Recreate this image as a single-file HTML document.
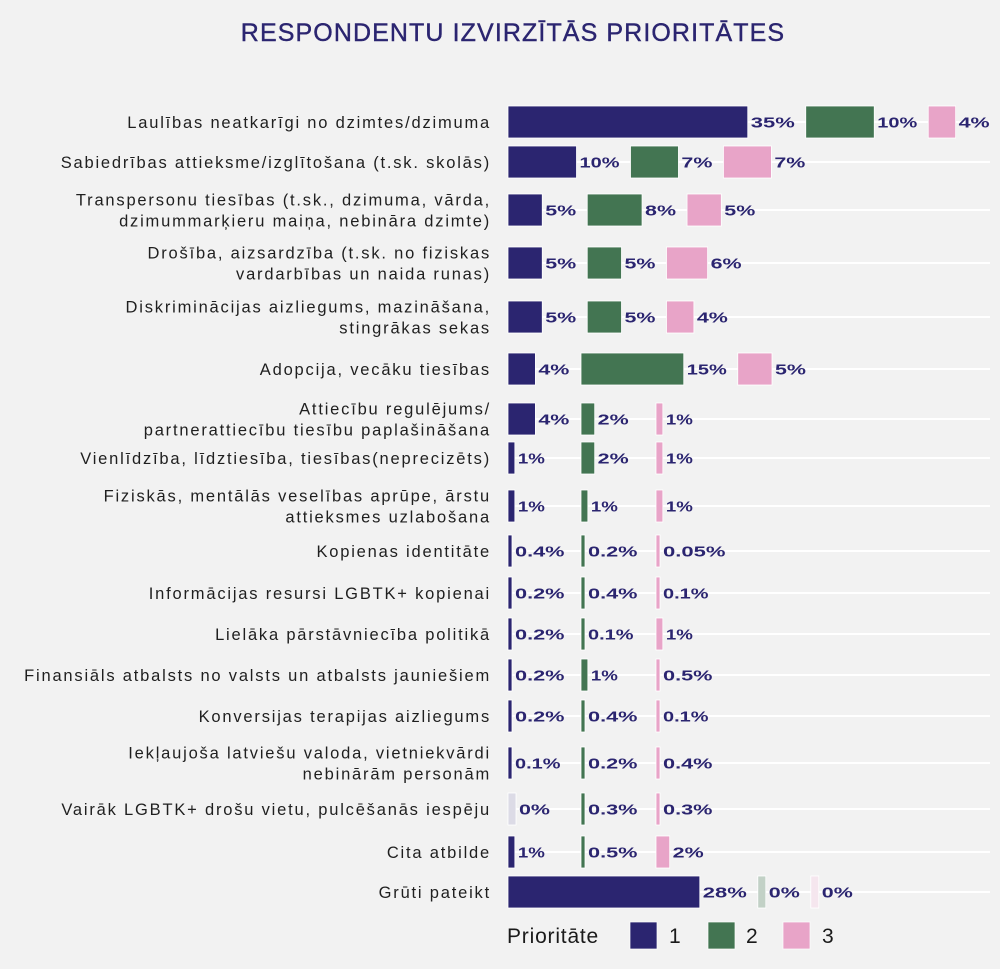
<!DOCTYPE html>
<html><head><meta charset="utf-8">
<style>
html,body{margin:0;padding:0;background:#f2f2f2;}
svg{display:block;font-family:"Liberation Sans",sans-serif;}
</style></head>
<body>
<svg id="chart" width="1000" height="969" viewBox="0 0 1000 969">
<rect width="1000" height="969" fill="#f2f2f2"/>
<text x="513" y="41" text-anchor="middle" font-size="25" fill="#2b2570" letter-spacing="1.1" stroke="#2b2570" stroke-width="0.4">RESPONDENTU IZVIRZĪTĀS PRIORITĀTES</text>
<g id="rows"></g>
<g>
<text x="507" y="943" font-size="21" fill="#1a1a1a" letter-spacing="0.8">Prioritāte</text>
<rect x="630" y="922" width="27" height="27" fill="#2b2570" stroke="#fff" stroke-width="0.7"/>
<text x="669" y="943" font-size="21" fill="#1a1a1a">1</text>
<rect x="708" y="922" width="27" height="27" fill="#437552" stroke="#fff" stroke-width="0.7"/>
<text x="746" y="943" font-size="21" fill="#1a1a1a">2</text>
<rect x="783" y="922" width="27" height="27" fill="#e8a4c8" stroke="#fff" stroke-width="0.7"/>
<text x="822" y="943" font-size="21" fill="#1a1a1a">3</text>
</g>
</svg>
<script>
const categories = [
 ["Laulības neatkarīgi no dzimtes/dzimuma"],
 ["Sabiedrības attieksme/izglītošana (t.sk. skolās)"],
 ["Transpersonu tiesības (t.sk., dzimuma, vārda,","dzimummarķieru maiņa, nebināra dzimte)"],
 ["Drošība, aizsardzība (t.sk. no fiziskas","vardarbības un naida runas)"],
 ["Diskriminācijas aizliegums, mazināšana,","stingrākas sekas"],
 ["Adopcija, vecāku tiesības"],
 ["Attiecību regulējums/","partnerattiecību tiesību paplašināšana"],
 ["Vienlīdzība, līdztiesība, tiesības(neprecizēts)"],
 ["Fiziskās, mentālās veselības aprūpe, ārstu","attieksmes uzlabošana"],
 ["Kopienas identitāte"],
 ["Informācijas resursi LGBTK+ kopienai"],
 ["Lielāka pārstāvniecība politikā"],
 ["Finansiāls atbalsts no valsts un atbalsts jauniešiem"],
 ["Konversijas terapijas aizliegums"],
 ["Iekļaujoša latviešu valoda, vietniekvārdi","nebinārām personām"],
 ["Vairāk LGBTK+ drošu vietu, pulcēšanās iespēju"],
 ["Cita atbilde"],
 ["Grūti pateikt"]
];
const priority1 = [35,10,5,5,5,4,4,1,1,0.4,0.2,0.2,0.2,0.2,0.1,0,1,28];
const priority2 = [10,7,8,5,5,15,2,2,1,0.2,0.4,0.1,1,0.4,0.2,0.3,0.5,0];
const priority3 = [4,7,5,6,4,5,1,1,1,0.05,0.1,1,0.5,0.1,0.4,0.3,2,0];
const valueLabels1 = ["35%","10%","5%","5%","5%","4%","4%","1%","1%","0.4%","0.2%","0.2%","0.2%","0.2%","0.1%","0%","1%","28%"];
const valueLabels2 = ["10%","7%","8%","5%","5%","15%","2%","2%","1%","0.2%","0.4%","0.1%","1%","0.4%","0.2%","0.3%","0.5%","0%"];
const valueLabels3 = ["4%","7%","5%","6%","4%","5%","1%","1%","1%","0.05%","0.1%","1%","0.5%","0.1%","0.4%","0.3%","2%","0%"];

const rowY = [122,162,210,263,317,369,419,458,506,551,593,634,675,716,763,809,852,892];
const NS="http://www.w3.org/2000/svg";
const g=document.getElementById('rows');
const X0=508, PX=6.85, BH=32;
const colors=["#2b2570","#437552","#e8a4c8"];
const zeroColors=["#dcdbe6","#c2d1c6","#f5e6ee"];
const minStart=[508,581,656];
function xw(v){return v===0?8:Math.max(v*PX,4);}
function mk(tag,attrs){const e=document.createElementNS(NS,tag);for(const k in attrs)e.setAttribute(k,attrs[k]);return e;}
function labelWidth(s){let w=0;for(const c of s){w+= c==='%'?18:(c==='.'?5.5:(c==='1'?9:13));}return w;}
const series=[priority1,priority2,priority3];
const labels=[valueLabels1,valueLabels2,valueLabels3];
categories.forEach((cat,i)=>{
  const cy=rowY[i];
  const grid=mk('line',{x1:X0,x2:990,y1:cy,y2:cy,stroke:'#ffffff','stroke-width':2});
  
  
  g.appendChild(grid);
  const lh=21;
  cat.forEach((line,j)=>{
    const t=mk('text',{x:491,y:cy+6+(j-(cat.length-1)/2)*lh,'text-anchor':'end','font-size':16.5,fill:'#1f1f1f','letter-spacing':1.8});
    t.textContent=line;
    
    
    g.appendChild(t);
  });
  let x=X0;
  for(let s=0;s<3;s++){
    x=Math.max(x,minStart[s]);
    const v=series[s][i];
    const w=xw(v);
    const r=mk('rect',{x:x,y:cy-BH/2,width:w,height:BH,fill:v===0?zeroColors[s]:colors[s],stroke:'#ffffff','stroke-width':0.8});
    
    
    g.appendChild(r);
    const lw=labelWidth(labels[s][i]);
    const t=mk('text',{x:x+w+3,y:cy+5.5,'font-size':15,'font-weight':'bold',fill:'#2b2570',textLength:lw,lengthAdjust:'spacingAndGlyphs'});
    t.textContent=labels[s][i];
    
    
    g.appendChild(t);
    x=x+w+3+lw+11;
  }
});
</script>
</body></html>
